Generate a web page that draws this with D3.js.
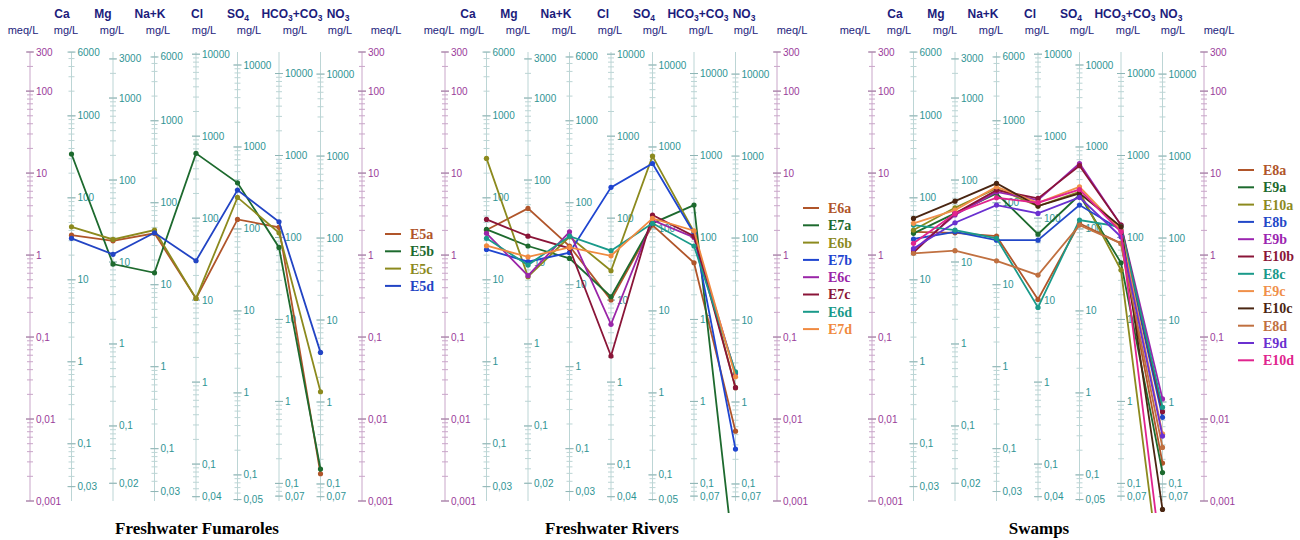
<!DOCTYPE html>
<html lang="en">
<head>
<meta charset="utf-8">
<title>schoeller</title>
<script src="https://cdn.jsdelivr.net/npm/d3@7"></script>
<style>
  body { margin: 0; background: #fff; }
  svg text { font-family: "Liberation Sans", Arial, sans-serif; }
</style>
</head>
<body>
<svg width="1300" height="540"></svg>
<script>
// ions, in the order of the axes
const ions = ["Ca", "Mg", "Na+K", "Cl", "SO4", "HCO3+CO3", "NO3"];
const eqWeights = [20.04, 12.15, 23, 35.45, 48.03, 61.02, 62.0];

// tick labels
const meqTicks = [300, 100, 10, 1, 0.1, 0.01, 0.001];
const ionTicks = [
  [6000, 1000, 100, 10, 1, 0.1, 0.03],
  [3000, 1000, 100, 10, 1, 0.1, 0.02],
  [6000, 1000, 100, 10, 1, 0.1, 0.03],
  [10000, 1000, 100, 10, 1, 0.1, 0.04],
  [10000, 1000, 100, 10, 1, 0.1, 0.05],
  [10000, 1000, 100, 10, 1, 0.1, 0.07],
  [10000, 1000, 100, 10, 1, 0.1, 0.07]
];

const panelTitles = ["Freshwater Fumaroles", "Freshwater Rivers", "Swamps"];

// samples, values in meq/L (Ca, Mg, Na+K, Cl, SO4, HCO3+CO3, NO3)
const fumarolesNames = ["E5a", "E5b", "E5c", "E5d"];
const fumarolesColors = ["#b0552a", "#1d6a2e", "#8c8a1e", "#2244c4"];
const fumarolesValues = [
  [1.75, 1.49, 1.84, 0.296, 2.72, 2.18, 0.00215],
  [17.1, 0.777, 0.608, 17.4, 7.6, 1.24, 0.00245],
  [2.21, 1.55, 2.02, 0.296, 5.05, 1.87, 0.0215],
  [1.6, 1.02, 1.87, 0.852, 6.2, 2.55, 0.065]
];

const riversNames = ["E6a", "E7a", "E6b", "E7b", "E6c", "E7c", "E6d", "E7d"];
const riversColors = ["#b0552a", "#1d6a2e", "#8c8a1e", "#1f45d0", "#9a25a8", "#8a1538", "#1a9a8a", "#f08a40"];
const riversValues = [
  [2.02, 3.71, 1.29, 0.283, 2.32, 0.806, 0.0071],
  [2.06, 1.29, 0.91, 0.31, 2.44, 4.07, 0.00013],
  [15.1, 0.544, 1.67, 0.644, 16.1, 1.92, 0.0241],
  [1.17, 0.83, 1.07, 6.7, 13.1, 1.84, 0.0043],
  [1.84, 0.56, 1.92, 0.143, 2.67, 1.64, 0.036],
  [2.72, 1.7, 1.21, 0.0587, 3.08, 1.7, 0.0241],
  [1.6, 0.755, 1.7, 1.13, 2.44, 1.29, 0.0375],
  [1.3, 0.95, 1.24, 0.98, 2.8, 1.98, 0.0328]
];

const swampsNames = ["E8a", "E9a", "E10a", "E8b", "E9b", "E10b", "E8c", "E9c", "E10c", "E8d", "E9d", "E10d"];
const swampsColors = ["#b0552a", "#1d6a2e", "#8c8a1e", "#2248c8", "#9b25b0", "#8a1538", "#1a9a8a", "#f0904a", "#4a2612", "#c07040", "#6a30d0", "#e0248e"];
const swampsValues = [
  [1.92, 1.87, 1.7, 0.288, 2.44, 1.39, 0.0029],
  [1.84, 3.22, 5.66, 1.8, 5.4, 0.806, 0.00222],
  [2.02, 3.78, 6.5, 3.96, 5.9, 0.656, 0.00007],
  [1.57, 1.92, 1.52, 1.52, 4.07, 2.02, 0.0105],
  [1.15, 3.08, 5.9, 4.68, 13.1, 2.32, 0.0176],
  [1.07, 3.22, 6.2, 4.92, 12.3, 2.32, 0.0123],
  [2.32, 2.02, 1.6, 0.23, 2.67, 2.21, 0.0139],
  [2.44, 3.54, 6.8, 4.35, 6.8, 2.02, 0.0066],
  [2.8, 4.55, 7.5, 3.96, 5.66, 2.21, 0.00079],
  [1.05, 1.13, 0.85, 0.57, 2.32, 1.39, 0.0045],
  [1.2, 2.48, 4.07, 3.22, 5.05, 1.67, 0.0062],
  [1.39, 3.22, 5.0, 4.35, 6.3, 1.92, 0.00015]
];

const panels = [
  {left: 30, title: panelTitles[0], names: fumarolesNames, colors: fumarolesColors, values: fumarolesValues,
   hdrShift: 9, meqLeftLabel: -7, legendX: 355, legendY: 234},
  {left: 445, title: panelTitles[1], names: riversNames, colors: riversColors, values: riversValues,
   hdrShift: 0, meqLeftLabel: -6, legendX: 358, legendY: 208},
  {left: 872, title: panelTitles[2], names: swampsNames, colors: swampsColors, values: swampsValues,
   hdrShift: 0, meqLeftLabel: -17, legendX: 366, legendY: 170}
];

const ionNameRel = [23, 64, 111, 158, 199, 253, 299];
const unitRel = [27, 73, 119, 165, 210, 256, 301, 347];

const navy = "#1c1c7c";
const purple = "#9a3b9a";
const teal = "#2f9494";

const svg = d3.select("svg");

svg.append("defs").append("clipPath").attr("id", "plotclip")
  .append("rect").attr("x", 0).attr("y", 0).attr("width", 1300).attr("height", 513);

const y = d3.scaleLog().domain([0.001, 300]).range([501, 52]);
const fmt = v => String(v).replace(".", ",");

function minorTicks(lo, hi) {
  const out = [];
  for (let e = -4; e <= 5; e++) {
    for (let m = 1; m <= 9; m++) {
      const v = m * Math.pow(10, e);
      if (v >= lo * 0.9999 && v <= hi * 1.0001) out.push({v: v, major: m === 1});
    }
  }
  return out;
}

function ionText(sel, label) {
  const parts = label.match(/[A-Za-z+]+|\d+/g);
  let low = false;
  parts.forEach(p => {
    if (/^\d+$/.test(p)) {
      sel.append("tspan").attr("font-size", 8.5).attr("dy", 3).text(p);
      low = true;
    } else {
      sel.append("tspan").attr("dy", low ? -3 : 0).text(p);
      low = false;
    }
  });
}

panels.forEach(p => {
  const keys = ["meqL"].concat(ions, ["meqR"]);
  const x = d3.scalePoint().domain(keys).range([p.left, p.left + 332]);
  const g = svg.append("g");

  // header
  ions.forEach((ion, i) => {
    const t = g.append("text")
      .attr("x", p.left + ionNameRel[i] + p.hdrShift).attr("y", 18)
      .attr("text-anchor", "middle").attr("font-weight", "bold")
      .attr("font-size", 12).attr("fill", navy);
    ionText(t, ion);
  });
  g.append("text").attr("x", p.left + p.meqLeftLabel).attr("y", 34)
    .attr("text-anchor", "middle").attr("font-size", 11).attr("fill", navy).text("meq/L");
  unitRel.forEach((r, i) => {
    g.append("text").attr("x", p.left + r + p.hdrShift).attr("y", 34)
      .attr("text-anchor", "middle").attr("font-size", 11).attr("fill", navy)
      .text(i < 7 ? "mg/L" : "meq/L");
  });

  // meq axes
  ["meqL", "meqR"].forEach(k => {
    const ax = g.append("g").attr("transform", `translate(${x(k)},0)`);
    ax.append("line").attr("y1", y(300)).attr("y2", y(0.001))
      .attr("stroke", "#c9a6c9").attr("stroke-width", 1);
    ax.selectAll(".tk").data(minorTicks(0.001, 300)).enter().append("line")
      .attr("x1", d => d.major ? -4 : -3).attr("x2", d => d.major ? 4 : 3)
      .attr("y1", d => y(d.v)).attr("y2", d => y(d.v))
      .attr("stroke", "#c9a6c9").attr("stroke-width", 1);
    ax.selectAll(".lb").data(meqTicks).enter().append("line")
      .attr("x1", -4).attr("x2", 4).attr("y1", d => y(d)).attr("y2", d => y(d))
      .attr("stroke", "#a07aa0");
    ax.selectAll("text").data(meqTicks).enter().append("text")
      .attr("x", 6).attr("y", d => y(d)).attr("dy", "0.35em")
      .attr("font-size", 10).attr("fill", purple).text(fmt);
  });

  // ion axes in mg/L
  ions.forEach((ion, i) => {
    const w = eqWeights[i];
    const ax = g.append("g").attr("transform", `translate(${x(ion)},0)`);
    ax.append("line").attr("y1", y(300)).attr("y2", y(0.001))
      .attr("stroke", "#bcd5d5").attr("stroke-width", 1);
    ax.selectAll(".tk").data(minorTicks(0.001 * w, 300 * w)).enter().append("line")
      .attr("x1", d => d.major ? -4 : -3).attr("x2", d => d.major ? 4 : 3)
      .attr("y1", d => y(d.v / w)).attr("y2", d => y(d.v / w))
      .attr("stroke", "#bcd5d5").attr("stroke-width", 1);
    ax.selectAll(".lb").data(ionTicks[i]).enter().append("line")
      .attr("x1", -4).attr("x2", 4).attr("y1", d => y(d / w)).attr("y2", d => y(d / w))
      .attr("stroke", "#8fb5b5");
    ax.selectAll("text").data(ionTicks[i]).enter().append("text")
      .attr("x", 6).attr("y", d => y(d / w)).attr("dy", "0.35em")
      .attr("font-size", 10).attr("fill", teal).text(fmt);
  });

  // sample lines
  const line = d3.line().x((d, j) => x(ions[j])).y(d => y(d));
  const lines = g.append("g").attr("clip-path", "url(#plotclip)");
  p.values.forEach((vals, s) => {
    lines.append("path").datum(vals).attr("d", line)
      .attr("fill", "none").attr("stroke", p.colors[s]).attr("stroke-width", 1.8);
    lines.selectAll(null).data(vals).enter().append("circle")
      .attr("cx", (d, j) => x(ions[j])).attr("cy", d => y(d)).attr("r", 2.6)
      .attr("fill", p.colors[s]);
  });

  // legend
  const leg = g.append("g").attr("transform", `translate(${p.left + p.legendX},${p.legendY})`);
  p.names.forEach((n, s) => {
    const row = leg.append("g").attr("transform", `translate(0,${s * 17.3})`);
    row.append("line").attr("x1", 0).attr("x2", 16).attr("stroke", p.colors[s]).attr("stroke-width", 2);
    row.append("text").attr("x", 25).attr("dy", "0.35em")
      .style("font-family", "'Liberation Serif', serif")
      .attr("font-weight", "bold").attr("font-size", 14).attr("fill", p.colors[s]).text(n);
  });

  // title
  g.append("text").attr("x", p.left + 167).attr("y", 534)
    .attr("text-anchor", "middle").style("font-family", "'Liberation Serif', serif")
    .attr("font-weight", "bold").attr("font-size", 17).attr("fill", "#000").text(p.title);
});
</script>
</body>
</html>
